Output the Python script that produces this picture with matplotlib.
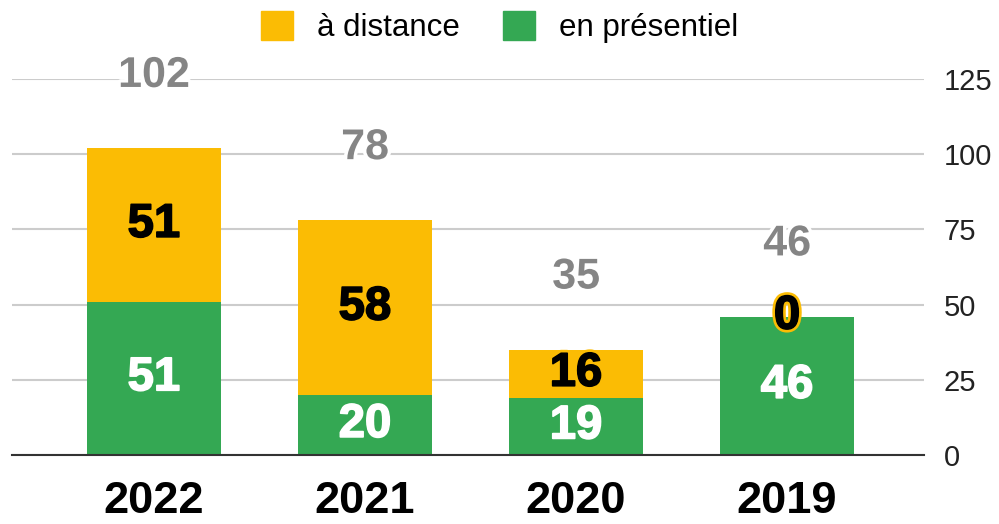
import matplotlib.pyplot as plt
import matplotlib.patheffects as pe
from matplotlib.patches import Patch

years = ["2022", "2021", "2020", "2019"]
presentiel = [51, 20, 19, 46]
distance = [51, 58, 16, 0]
totals = [102, 78, 35, 46]
yticks = [0, 25, 50, 75, 100, 125]

GREEN = "#34a853"
YELLOW = "#fbbc04"
GRAY = "#858585"

plt.rcParams["font.family"] = ["Liberation Sans", "DejaVu Sans"]

fig = plt.figure(figsize=(9.99, 5.24), dpi=100)
ax = fig.add_axes([0.012, 0.1317, 0.913, 0.7176])

x = range(len(years))
ax.bar(x, presentiel, width=0.635, color=GREEN, zorder=2)
ax.bar(x, distance, width=0.635, bottom=presentiel, color=YELLOW, zorder=2)


def heavy(col, outline, w=5):
    # outer outline, then a thin stroke of the text colour to thicken glyphs
    return [pe.withStroke(linewidth=w, foreground=outline),
            pe.withStroke(linewidth=1.2, foreground=col)]


for i in x:
    p, d = presentiel[i], distance[i]
    ax.text(i, p / 2, str(p), ha="center", va="center", fontsize=34,
            fontweight="bold", color="white", zorder=4,
            path_effects=heavy("white", GREEN))
    ax.text(i, p + d / 2, str(d), ha="center", va="center", fontsize=34,
            fontweight="bold", color="black", zorder=4,
            path_effects=heavy("black", YELLOW))
    ax.text(i, totals[i] + 24, str(totals[i]), ha="center", va="center",
            fontsize=31, fontweight="bold", color=GRAY, zorder=4,
            path_effects=[pe.withStroke(linewidth=5, foreground="white")])

ax.set_xlim(-0.673, 3.649)
ax.set_ylim(0, 125)
ax.set_yticks(yticks)
ax.yaxis.tick_right()
ax.tick_params(axis="y", length=0, pad=14, labelsize=21, labelcolor="#222222")
ax.set_xticks(list(x))
ax.set_xticklabels(years, fontsize=32.5, fontweight="bold")
ax.tick_params(axis="x", length=0, pad=19)
ax.grid(axis="y", color="#cccccc", linewidth=1.5, zorder=0)
for s in ["top", "left", "right"]:
    ax.spines[s].set_visible(False)
ax.spines["bottom"].set_color("#333333")
ax.spines["bottom"].set_linewidth(1.5)
ax.spines["bottom"].set_zorder(3)

handles = [Patch(color=YELLOW, label="à distance"),
           Patch(color=GREEN, label="en présentiel")]
fig.legend(handles=handles, loc="center", bbox_to_anchor=(0.5, 0.948),
           ncol=2, frameon=False, fontsize=22.5, handlelength=1.03,
           handleheight=1.03, handletextpad=0.75, columnspacing=1.4)

fig.savefig("out.png", dpi=100)
